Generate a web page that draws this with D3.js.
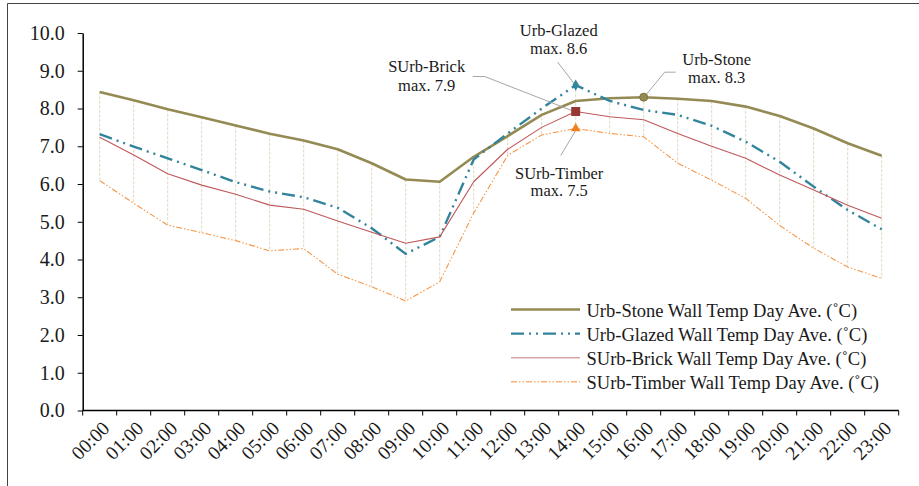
<!DOCTYPE html>
<html>
<head>
<meta charset="utf-8">
<script src="https://cdn.jsdelivr.net/npm/d3@7/dist/d3.min.js"></script>
<style>
  html, body { margin: 0; padding: 0; background: #fff; }
  svg { display: block; }
  text { font-family: "Liberation Serif", "Times New Roman", serif; fill: #1a1a1a; }
</style>
</head>
<body>
<svg id="chart" width="919" height="486"></svg>
<script>
const hours = ["00:00","01:00","02:00","03:00","04:00","05:00","06:00","07:00","08:00","09:00","10:00","11:00",
               "12:00","13:00","14:00","15:00","16:00","17:00","18:00","19:00","20:00","21:00","22:00","23:00"];
const yTicks = [0,1,2,3,4,5,6,7,8,9,10];

const stone  = [8.44, 8.22, 7.98, 7.77, 7.55, 7.33, 7.15, 6.92, 6.55, 6.12, 6.06, 6.72, 7.27, 7.83, 8.20, 8.27, 8.30, 8.26, 8.20, 8.05, 7.80, 7.47, 7.08, 6.75];
const glazed = [7.32, 6.99, 6.68, 6.37, 6.05, 5.80, 5.65, 5.37, 4.83, 4.15, 4.60, 6.65, 7.34, 8.00, 8.62, 8.20, 7.96, 7.83, 7.54, 7.12, 6.59, 5.93, 5.31, 4.80];
const brick  = [7.24, 6.77, 6.27, 5.97, 5.73, 5.44, 5.33, 5.02, 4.72, 4.43, 4.60, 6.06, 6.92, 7.50, 7.92, 7.78, 7.70, 7.34, 7.00, 6.68, 6.24, 5.84, 5.44, 5.09];
const timber = [6.09, 5.49, 4.91, 4.71, 4.50, 4.23, 4.29, 3.61, 3.28, 2.90, 3.41, 5.23, 6.76, 7.30, 7.47, 7.34, 7.25, 6.55, 6.10, 5.62, 4.90, 4.30, 3.80, 3.50];

const seriesNames = ["Urb-Stone Wall Temp Day Ave. (˚C)", "Urb-Glazed Wall Temp Day Ave. (˚C)",
                     "SUrb-Brick Wall Temp Day Ave. (˚C)", "SUrb-Timber Wall Temp Day Ave. (˚C)"];

const annotations = [
  {name: "Urb-Glazed", max: "max. 8.6", s: 1, i: 14},
  {name: "SUrb-Brick", max: "max. 7.9", s: 2, i: 14},
  {name: "SUrb-Timber", max: "max. 7.5", s: 3, i: 14},
  {name: "Urb-Stone", max: "max. 8.3", s: 0, i: 16}
];

(function () {
const svg = d3.select("#chart");
const W = 919, H = 486;
const pLeft = 82.7, pRight = 898.7, pTop = 33, pBottom = 410.5;

svg.append("line").attr("x1", 7.5).attr("x2", 7.5).attr("y1", 3.5).attr("y2", H).attr("stroke", "#444").attr("stroke-width", 1);
svg.append("line").attr("x1", 7.5).attr("x2", W).attr("y1", 3.5).attr("y2", 3.5).attr("stroke", "#444").attr("stroke-width", 1);

const x = d3.scaleBand().domain(hours).range([pLeft, pRight]).padding(0);
const y = d3.scaleLinear().domain([0, 10]).range([pBottom, pTop]);
const cx = h => x(h) + x.bandwidth() / 2;

const styles = [
  {data: stone,  color: "#948A54", width: 2.6, dash: null},
  {data: glazed, color: "#31849B", width: 2.4, dash: "13,5,2,5,2,5"},
  {data: brick,  color: "#C0585A", width: 1.1, dash: null},
  {data: timber, color: "#F79646", width: 1.1, dash: "6,2,1.5,2,1.5,2"}
];

const g = svg.append("g");
g.selectAll("line.hl").data(hours).join("line")
  .attr("class", "hl")
  .attr("x1", d => cx(d)).attr("x2", d => cx(d))
  .attr("y1", (d, i) => y(d3.max(styles, s => s.data[i])))
  .attr("y2", (d, i) => y(d3.min(styles, s => s.data[i])))
  .attr("stroke", "#DDD9C3").attr("stroke-width", 1).attr("stroke-dasharray", "3,1.5");

const yAxis = d3.axisLeft(y).tickValues(yTicks).tickFormat(d3.format(".1f")).tickSize(5).tickSizeOuter(0).tickPadding(13);
const ya = svg.append("g").attr("transform", `translate(${pLeft},0)`).call(yAxis);
ya.select(".domain").attr("stroke", "#000").attr("stroke-width", 1.5);
ya.selectAll(".tick line").attr("stroke", "#000");
ya.selectAll(".tick text").attr("font-size", 20).attr("font-family", "Liberation Serif").attr("fill", "#1a1a1a");

const xa = svg.append("g").attr("transform", `translate(0,${pBottom})`);
xa.append("line").attr("x1", pLeft).attr("x2", pRight).attr("stroke", "#000").attr("stroke-width", 1.5);
const bounds = hours.map(h => x(h)).concat([x(hours[hours.length - 1]) + x.bandwidth()]);
xa.selectAll("line.tk").data(bounds).join("line").attr("class", "tk")
  .attr("x1", d => d).attr("x2", d => d).attr("y1", 0).attr("y2", 5).attr("stroke", "#000");
xa.selectAll("text").data(hours).join("text")
  .attr("transform", d => `translate(${cx(d) + 11},${19}) rotate(-45)`)
  .attr("text-anchor", "end")
  .attr("font-size", 19.5)
  .text(d => d);

styles.forEach(s => {
  const line = d3.line().x((d, i) => cx(hours[i])).y(d => y(d));
  svg.append("path").datum(s.data).attr("d", line)
    .attr("fill", "none").attr("stroke", s.color).attr("stroke-width", s.width)
    .attr("stroke-dasharray", s.dash).attr("stroke-linejoin", "round");
});

const P = a => [cx(hours[a.i]), y(styles[a.s].data[a.i])];
const lead = svg.append("g").attr("stroke", "#A6A6A6").attr("stroke-width", 1).attr("fill", "none");
const tg = svg.append("g").attr("font-size", 16.5).attr("text-anchor", "middle");
{ const a = annotations[0], p = P(a);
  lead.append("path").attr("d", `M${p[0]-18},${p[1]-23}L${p[0]-2},${p[1]-2}`);
  tg.append("text").attr("x", p[0]-17).attr("y", p[1]-49).text(a.name);
  tg.append("text").attr("x", p[0]-17).attr("y", p[1]-31.5).text(a.max); }
{ const a = annotations[1], p = P(a);
  lead.append("path").attr("d", `M${p[0]-103},${p[1]-35}L${p[0]-91},${p[1]-35}L${p[0]-4},${p[1]-1}`);
  tg.append("text").attr("x", p[0]-149).attr("y", p[1]-39.5).text(a.name);
  tg.append("text").attr("x", p[0]-149).attr("y", p[1]-21).text(a.max); }
{ const a = annotations[2], p = P(a);
  lead.append("path").attr("d", `M${p[0]-15},${p[1]+27}L${p[0]},${p[1]+2}`);
  tg.append("text").attr("x", p[0]-16.5).attr("y", p[1]+50).text(a.name);
  tg.append("text").attr("x", p[0]-16.5).attr("y", p[1]+67.5).text(a.max); }
{ const a = annotations[3], p = P(a);
  lead.append("path").attr("d", `M${p[0]+32},${p[1]-25}L${p[0]+21},${p[1]-25}L${p[0]+2},${p[1]-2}`);
  tg.append("text").attr("x", p[0]+73).attr("y", p[1]-32).text(a.name);
  tg.append("text").attr("x", p[0]+73).attr("y", p[1]-13.7).text(a.max); }

{ const p = P(annotations[0]);
  svg.append("path").attr("d", d3.symbol(d3.symbolDiamond, 36)()).attr("transform", `translate(${p[0]},${p[1]})`).attr("fill", "#31849B"); }
{ const p = P(annotations[1]);
  svg.append("rect").attr("x", p[0]-4.5).attr("y", p[1]-4.5).attr("width", 9).attr("height", 9).attr("fill", "#953735"); }
{ const p = P(annotations[2]);
  svg.append("path").attr("d", d3.symbol(d3.symbolTriangle, 40)()).attr("transform", `translate(${p[0]},${p[1]})`).attr("fill", "#F07F1E"); }
{ const p = P(annotations[3]);
  svg.append("circle").attr("cx", p[0]).attr("cy", p[1]).attr("r", 4).attr("fill", "#948A54").attr("stroke", "#7F7440"); }

const legendColors = [
  {color: "#948A54", width: 2.6, dash: null},
  {color: "#31849B", width: 2.4, dash: "13,5,2,5,2,5"},
  {color: "#D8A8A8", width: 1.6, dash: null},
  {color: "#F9B07A", width: 1.4, dash: "6,2,1.5,2,1.5,2"}
];
const lg = svg.append("g");
seriesNames.forEach((n, k) => {
  const yy = 309.5 + k * 24.1;
  lg.append("line").attr("x1", 511).attr("x2", 580).attr("y1", yy).attr("y2", yy)
    .attr("stroke", legendColors[k].color).attr("stroke-width", legendColors[k].width)
    .attr("stroke-dasharray", legendColors[k].dash);
  lg.append("text").attr("x", 586.5).attr("y", yy + 7).attr("font-size", 18.5).text(n);
});
})();
</script>
</body>
</html>
